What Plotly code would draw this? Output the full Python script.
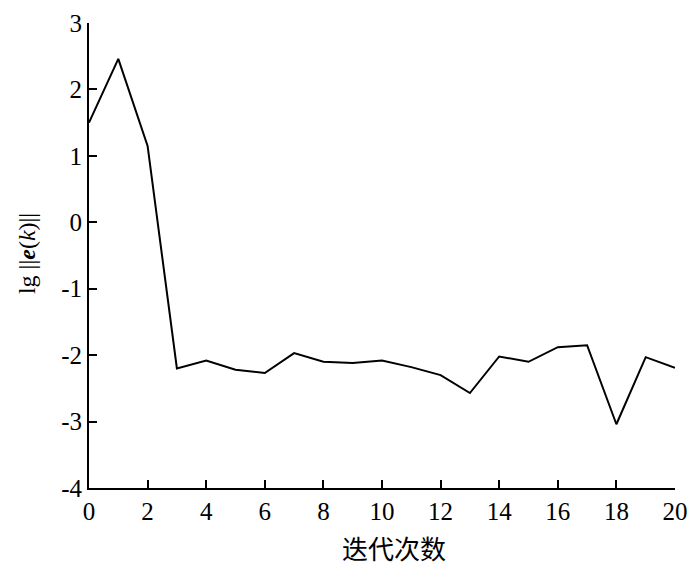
import plotly.graph_objects as go

iterations = list(range(0, 21))
lg_error = [1.50, 2.46, 1.15, -2.20, -2.08, -2.22, -2.27, -1.97, -2.10, -2.12,
            -2.08, -2.18, -2.30, -2.57, -2.02, -2.10, -1.88, -1.85, -3.04, -2.03, -2.19]
x_ticks = list(range(0, 21, 2))
y_ticks = list(range(-4, 4))
y_tick_text = [str(v) for v in y_ticks]  # plain hyphen minus, as in the reference

fig = go.Figure()
fig.add_trace(go.Scatter(x=iterations, y=lg_error, mode="lines",
                         line=dict(color="black", width=2), showlegend=False))

serif = "Liberation Serif, Times New Roman, serif"
tick_font = dict(family=serif, size=25, color="black")

# the page body has an 8px margin, so the figure is sized 8px smaller
fig.update_layout(
    width=692, height=559,
    margin=dict(l=81, r=25, t=15, b=79),
    plot_bgcolor="white", paper_bgcolor="white",
    xaxis=dict(range=[0, 20], tickvals=x_ticks, ticks="inside", ticklen=8, tickwidth=2,
               tickcolor="black", showline=True, linecolor="black", linewidth=2,
               showgrid=False, zeroline=False, tickfont=tick_font, automargin=False),
    yaxis=dict(range=[-4, 3], tickvals=y_ticks, ticktext=y_tick_text, ticks="inside",
               ticklen=8, tickwidth=2,
               tickcolor="black", showline=True, linecolor="black", linewidth=2,
               showgrid=False, zeroline=False, tickfont=tick_font, automargin=False),
    annotations=[
        dict(text="迭代次数", xref="paper", yref="paper", x=0.52, y=-0.129,
             xanchor="center", yanchor="middle", showarrow=False,
             font=dict(family="Noto Sans CJK SC", size=26, color="black")),
        dict(text="lg ||<b><i>e</i></b>(<i>k</i>)||", xref="paper", yref="paper",
             x=-0.106, y=0.505, xanchor="center", yanchor="middle", textangle=-90,
             showarrow=False, font=dict(family=serif, size=24, color="black")),
    ],
)

fig.write_html("out.html")
